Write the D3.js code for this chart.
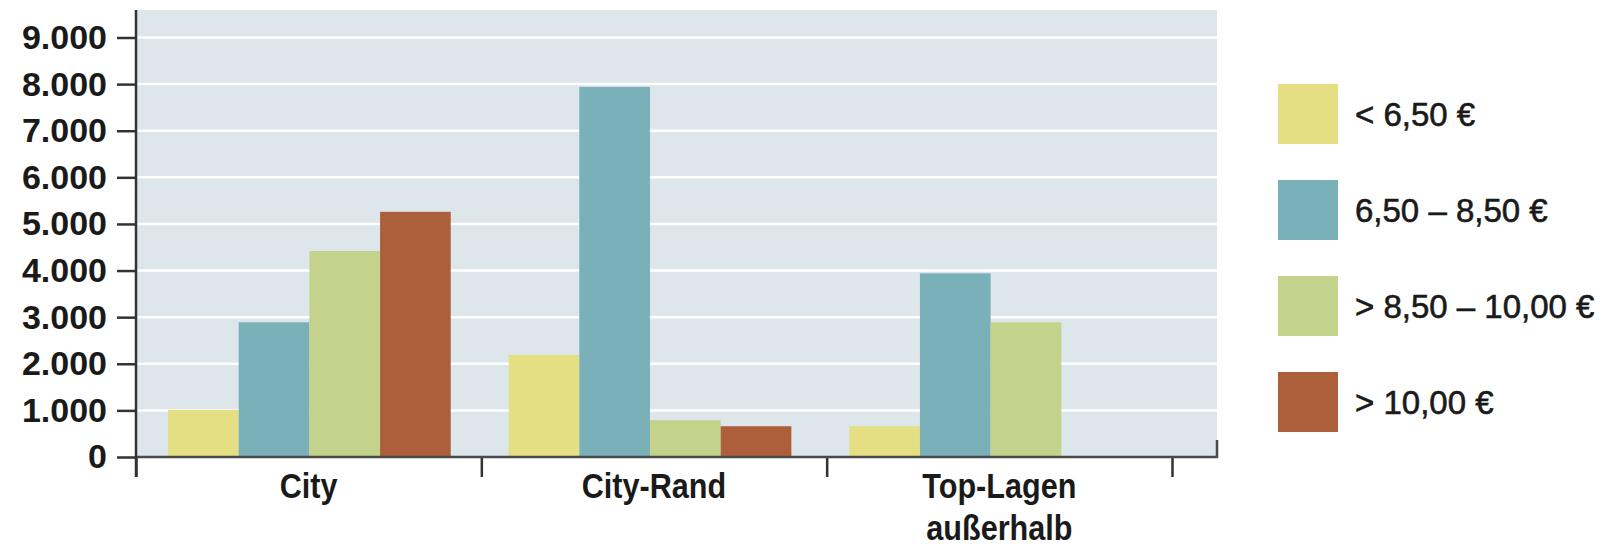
<!DOCTYPE html>
<html>
<head>
<meta charset="utf-8">
<script src="https://cdn.jsdelivr.net/npm/d3@7"></script>
<style>
    html, body { margin: 0; padding: 0; background: #fff; }
    .ylab text { font-family: "Liberation Sans", Arial, sans-serif; font-weight: bold; font-size: 34px; fill: #1a1a1a; }
    .cat-label { font-family: "Liberation Sans", Arial, sans-serif; font-weight: bold; font-size: 36px; fill: #1a1a1a; }
    .legend-label { font-family: "Liberation Sans", Arial, sans-serif; font-size: 33px; fill: #1a1a1a; stroke: #1a1a1a; stroke-width: 0.6px; }
</style>
</head>
<body>
<div class="graph"></div>
<script>
// data ------------------
const categories = ['City', 'City-Rand', 'Top-Lagen außerhalb']
const categoryLines = [['City'], ['City-Rand'], ['Top-Lagen', 'außerhalb']]
const seriesNames = ['< 6,50 €', '6,50 – 8,50 €', '> 8,50 – 10,00 €', '> 10,00 €']
const below650 = [1010, 2190, 660]
const from650to850 = [2890, 7940, 3940]
const from850to1000 = [4420, 790, 2890]
const above1000 = [5260, 660, 0]
const yTicks = [0, 1000, 2000, 3000, 4000, 5000, 6000, 7000, 8000, 9000]

const seriesValues = [below650, from650to850, from850to1000, above1000]
const colours = ['#e5df84', '#7ab1b9', '#c4d38b', '#ad5f3c']

// config
const w = 1604
const h = 548
const plot = {left: 136, right: 1217, top: 10, bottom: 457}

const de = d3.formatLocale({decimal: ',', thousands: '.', grouping: [3], currency: ['', ' €']})

const svg = d3.select('.graph')
    .append('svg')
    .attr('width', w)
    .attr('height', h)
    .style('display', 'block')

// scales
const yScale = d3.scaleLinear()
    .domain([0, 9000])
    .range([plot.bottom, 37.5])

const edgeScale = d3.scaleLinear()
    .domain([0, categories.length])
    .range([plot.left, 1172])

const catScale = d3.scaleBand()
    .domain(categories)
    .range([plot.left, 1172])

const groupScale = d3.scaleBand()
    .domain(categories)
    .range([plot.left, 1164])
    .paddingInner(0.17)
    .paddingOuter(0.094)

const barScale = d3.scaleBand()
    .domain(seriesNames)
    .range([0, groupScale.bandwidth()])

// background + grid
svg.append('rect')
    .attr('x', plot.left)
    .attr('y', plot.top)
    .attr('width', plot.right - plot.left)
    .attr('height', plot.bottom - plot.top)
    .attr('fill', '#dde6ea')

svg.append('g')
    .selectAll('line')
    .data(yTicks.slice(1))
    .join('line')
    .attr('x1', plot.left)
    .attr('x2', plot.right)
    .attr('y1', d => yScale(d))
    .attr('y2', d => yScale(d))
    .attr('stroke', '#fff')
    .attr('stroke-width', 2.5)

// bars
const rows = categories.map((c, i) => ({cat: c, vals: seriesNames.map((s, j) => ({s: s, j: j, v: seriesValues[j][i]}))}))

svg.append('g')
    .selectAll('g')
    .data(rows)
    .join('g')
    .attr('transform', d => 'translate(' + groupScale(d.cat) + ',0)')
    .selectAll('rect')
    .data(d => d.vals.filter(x => x.v > 0))
    .join('rect')
    .attr('x', d => barScale(d.s))
    .attr('width', barScale.bandwidth())
    .attr('y', d => yScale(d.v))
    .attr('height', d => yScale(0) - yScale(d.v))
    .attr('fill', d => colours[d.j])

// axes
const yAxis = d3.axisLeft(yScale)
    .tickValues(yTicks)
    .tickFormat(de.format(','))
    .tickSize(19)
    .tickPadding(10)

svg.append('g')
    .attr('class', 'ylab')
    .attr('transform', 'translate(' + plot.left + ',0)')
    .call(yAxis)
    .call(g => g.select('.domain').remove())
    .call(g => g.selectAll('.tick line').attr('stroke', '#333').attr('stroke-width', 2.5))

const xAxis = d3.axisBottom(edgeScale)
    .tickValues(d3.range(categories.length + 1))
    .tickFormat('')
    .tickSize(20)
    .tickSizeOuter(0)

svg.append('g')
    .attr('transform', 'translate(0,' + plot.bottom + ')')
    .call(xAxis)
    .call(g => g.select('.domain').remove())
    .call(g => g.selectAll('.tick line').attr('stroke', '#333').attr('stroke-width', 2.5))

// x axis line with corner at the right end
svg.append('path')
    .attr('d', 'M' + plot.left + ',' + plot.bottom + 'H' + plot.right + 'V' + 440)
    .attr('fill', 'none')
    .attr('stroke', '#4a4a4a')
    .attr('stroke-width', 2.5)

// y axis line
svg.append('line')
    .attr('x1', plot.left).attr('x2', plot.left)
    .attr('y1', plot.top).attr('y2', 477)
    .attr('stroke', '#333')
    .attr('stroke-width', 2.5)

// category labels (condensed look via horizontal squeeze)
svg.append('g')
    .selectAll('text')
    .data(categories)
    .join('text')
    .attr('class', 'cat-label')
    .attr('text-anchor', 'middle')
    .attr('transform', d => 'translate(' + (catScale(d) + catScale.bandwidth() / 2) + ',498) scale(0.85,1)')
    .selectAll('tspan')
    .data((d, i) => categoryLines[i])
    .join('tspan')
    .attr('x', 0)
    .attr('dy', (d, i) => i == 0 ? 0 : 42)
    .text(d => d)

// legend
const legend = svg.append('g')
    .selectAll('g')
    .data(seriesNames)
    .join('g')
    .attr('transform', (d, i) => 'translate(1278,' + (84 + i * 96) + ')')

legend.append('rect')
    .attr('width', 60)
    .attr('height', 60)
    .attr('fill', (d, i) => colours[i])

legend.append('text')
    .attr('class', 'legend-label')
    .attr('x', 77)
    .attr('y', 30)
    .attr('dy', '0.35em')
    .text(d => d)
</script>
</body>
</html>
